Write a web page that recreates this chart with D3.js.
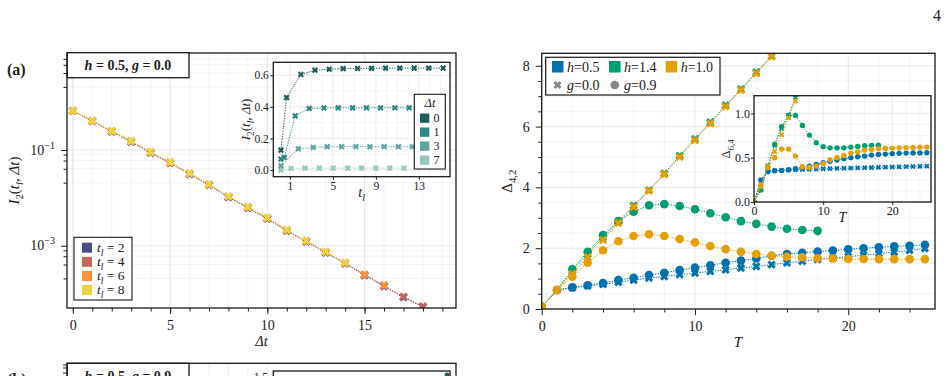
<!DOCTYPE html>
<html>
<head>
<meta charset="utf-8">
<script src="https://cdn.jsdelivr.net/npm/d3@7"></script>
<style>
  body { margin: 0; background: #fff; }
</style>
</head>
<body>
<div id="fig"></div>
<script>
// ---------- panel (a) main: I2(t_l, dt) on log scale
var deltaT = [0, 1, 2, 3, 4, 5, 6, 7, 8, 9, 10, 11, 12, 13, 14, 15, 16, 17, 18];
var tlLabels = ["2", "4", "6", "8"];
var tlColors = ["#4b4c8d", "#c5665b", "#fb923f", "#eed43e"];
var I2_tl2 = [0.655, 0.398, 0.241, 0.148, 0.0872, 0.0530, 0.0312, 0.0184, 0.0103, 0.00615, 0.00367, 0.00204, 0.00121, 7.17e-4, 4.22e-4, 2.41e-4, 1.42e-4, 8.38e-5, 5.26e-5];
var I2_tl4 = [0.660, 0.404, 0.246, 0.152, 0.0895, 0.0545, 0.0321, 0.0189, 0.0106, 0.00633, 0.00378, 0.00210, 0.00125, 7.38e-4, 4.35e-4, 2.48e-4, 1.47e-4, 8.62e-5, 5.42e-5];
var I2_tl6 = [0.662, 0.408, 0.248, 0.154, 0.0905, 0.0551, 0.0325, 0.0191, 0.0108, 0.00641, 0.00383, 0.00213, 0.00127, 7.48e-4, 4.41e-4, 2.52e-4, 1.49e-4];
var I2_tl8 = [0.663, 0.409, 0.249, 0.154, 0.0909, 0.0554, 0.0327, 0.0192, 0.0108, 0.00644, 0.00385, 0.00214, 0.00127, 7.51e-4, 4.43e-4];

// ---------- panel (a) inset: I2 vs t_l for a few dt
var dtLabels = ["0", "1", "3", "7"];
var dtColors = ["#1e5e5b", "#2d8782", "#5ba6a1", "#9ac6c2"];
var tl_dt0 = [0.16, 0.69, 2.02, 3.33, 4.66, 5.96, 7.30, 8.60, 9.90, 11.23, 12.56, 13.93, 15.26];
var I2_dt0 = [0.126, 0.459, 0.605, 0.632, 0.638, 0.642, 0.643, 0.644, 0.645, 0.645, 0.645, 0.645, 0.645];
var tl_dt1 = [0.16, 0.47, 1.49, 2.80, 4.16, 5.49, 6.83, 8.13, 9.44, 10.77, 12.10];
var I2_dt1 = [0.069, 0.080, 0.343, 0.390, 0.393, 0.394, 0.394, 0.394, 0.394, 0.394, 0.394];
var tl_dt3 = [0.16, 1.77, 3.17, 4.47, 5.81, 7.14, 8.44, 9.77, 11.10, 12.40];
var I2_dt3 = [0.027, 0.135, 0.143, 0.148, 0.148, 0.148, 0.148, 0.148, 0.148, 0.148];
var tl_dt7 = [0.16, 1.09, 2.40, 3.72, 5.03, 6.37, 7.67, 9.00, 10.30, 11.63];
var I2_dt7 = [0.0, 0.011, 0.012, 0.012, 0.012, 0.012, 0.012, 0.012, 0.012, 0.012];

// ---------- right panel: Delta_{4,2} vs T
var T = [0, 1, 2, 3, 4, 5, 6, 7, 8, 9, 10, 11, 12, 13, 14, 15, 16, 17, 18, 19, 20, 21, 22, 23, 24, 25];
var hLabels = ["0.5", "1.4", "1.0"];
var hColors = ["#0072b2", "#009e73", "#e69f00"];
var gLabels = ["0.0", "0.9"];
var d42_h05_g00 = [0.07, 0.625, 0.70, 0.76, 0.81, 0.88, 0.95, 1.02, 1.07, 1.13, 1.18, 1.24, 1.29, 1.35, 1.40, 1.46, 1.52, 1.57, 1.63, 1.67, 1.72, 1.77, 1.82, 1.87, 1.93, 1.99];
var d42_h05_g09 = [0.07, 0.625, 0.71, 0.78, 0.855, 0.95, 1.03, 1.12, 1.19, 1.28, 1.36, 1.44, 1.52, 1.59, 1.66, 1.75, 1.81, 1.85, 1.89, 1.92, 1.96, 2.00, 2.03, 2.06, 2.08, 2.11];
var d42_h14_g00 = [0.07, 0.625, 1.25, 1.80, 2.35, 2.88, 3.40, 3.91, 4.46, 5.04, 5.59, 6.14, 6.70, 7.23, 7.79, 8.32, 8.87];
var d42_h14_g09 = [0.07, 0.625, 1.31, 1.88, 2.43, 2.89, 3.20, 3.41, 3.45, 3.39, 3.28, 3.15, 3.02, 2.89, 2.80, 2.71, 2.64, 2.60, 2.57];
var d42_h10_g00 = [0.07, 0.625, 1.15, 1.70, 2.27, 2.83, 3.36, 3.89, 4.43, 5.00, 5.55, 6.10, 6.66, 7.20, 7.75, 8.30, 8.85];
var d42_h10_g09 = [0.07, 0.625, 1.06, 1.52, 1.93, 2.23, 2.40, 2.46, 2.40, 2.30, 2.19, 2.07, 1.97, 1.88, 1.81, 1.75, 1.72, 1.70, 1.67, 1.66, 1.645, 1.645, 1.64, 1.64, 1.64, 1.64];

// ---------- right inset: Delta_{6,4} vs T
var d64_h05_g00 = [0, 0.248, 0.350, 0.353, 0.356, 0.360, 0.364, 0.367, 0.370, 0.372, 0.375, 0.377, 0.379, 0.381, 0.383, 0.385, 0.387, 0.389, 0.391, 0.393, 0.395, 0.397, 0.399, 0.401, 0.403, 0.405];
var d64_h05_g09 = [0, 0.248, 0.342, 0.353, 0.356, 0.364, 0.376, 0.390, 0.406, 0.425, 0.443, 0.459, 0.474, 0.489, 0.500, 0.511, 0.519, 0.530, 0.537, 0.541, 0.545, 0.549, 0.552, 0.553, 0.554, 0.556];
var d64_h14_g00 = [0, 0.14, 0.41, 0.64, 0.83, 0.98, 1.18, 1.38];
var d64_h14_g09 = [0, 0.135, 0.39, 0.654, 0.85, 0.977, 0.977, 0.864, 0.755, 0.669, 0.624, 0.612, 0.610, 0.612, 0.620, 0.627, 0.635, 0.640, 0.642];
var d64_h10_g00 = [0, 0.17, 0.40, 0.57, 0.76, 0.95, 1.14, 1.33];
var d64_h10_g09 = [0, 0.19, 0.39, 0.50, 0.598, 0.598, 0.519, 0.398, 0.390, 0.406, 0.436, 0.474, 0.500, 0.526, 0.552, 0.567, 0.586, 0.594, 0.601, 0.605, 0.609, 0.612, 0.613, 0.616, 0.618, 0.620];

var FONT = "Liberation Serif";

var svg = d3.select("#fig").append("svg")
    .attr("width", 948).attr("height", 376)
    .style("display", "block").style("background", "#fff");
var defs = svg.append("defs");

// ---------- helpers
function rich(g, x, y, fs, parts, anchor) {
    var t = g.append("text").attr("x", x).attr("y", y)
        .attr("font-size", fs).attr("text-anchor", anchor || "start")
        .attr("font-family", FONT).attr("fill", "#222");
    var shift = 0;
    parts.forEach(function(p) {
        var st = p[1] || "";
        var target = st.indexOf("_") >= 0 ? fs * 0.28 : (st.indexOf("^") >= 0 ? -fs * 0.42 : 0);
        var ts = t.append("tspan").text(p[0]).attr("dy", target - shift);
        shift = target;
        if (target !== 0) ts.attr("font-size", fs * 0.72);
        if (st.indexOf("i") >= 0) ts.attr("font-style", "italic");
        if (st.indexOf("b") >= 0) ts.attr("font-weight", "bold");
    });
    return t;
}

function addClip(id, b) {
    defs.append("clipPath").attr("id", id).append("rect")
        .attr("x", b.x0).attr("y", b.y0).attr("width", b.x1 - b.x0).attr("height", b.y1 - b.y0);
}

function grid(g, b, xVals, yVals, xs, ys, color) {
    var gg = g.append("g").attr("stroke", color).attr("stroke-width", 0.8);
    xVals.forEach(function(v) {
        gg.append("line").attr("x1", xs(v)).attr("x2", xs(v)).attr("y1", b.y0).attr("y2", b.y1);
    });
    yVals.forEach(function(v) {
        gg.append("line").attr("y1", ys(v)).attr("y2", ys(v)).attr("x1", b.x0).attr("x2", b.x1);
    });
}

function ticks(g, scale, orient, pos, values, size, pad, fmt, fs) {
    var ax = (orient === "bottom" ? d3.axisBottom(scale) : d3.axisLeft(scale))
        .tickValues(values).tickSize(size).tickPadding(pad).tickFormat(fmt || (function() { return ""; }));
    var a = g.append("g")
        .attr("transform", orient === "bottom" ? "translate(0," + pos + ")" : "translate(" + pos + ",0)")
        .call(ax)
        .attr("font-family", FONT);
    a.select(".domain").remove();
    a.selectAll("line").attr("stroke", "#222").attr("stroke-width", 1);
    a.selectAll("text").attr("font-size", fs || 13).attr("fill", "#222").attr("font-family", FONT);
    return a;
}

function frame(g, b, fill) {
    g.append("rect").attr("x", b.x0).attr("y", b.y0)
        .attr("width", b.x1 - b.x0).attr("height", b.y1 - b.y0)
        .attr("fill", fill || "none").attr("stroke", "#1a1a1a").attr("stroke-width", 1.3);
}

function series(g, xv, yv, xs, ys, color, shape, size, clip) {
    var pts = yv.map(function(v, i) { return [xs(xv[i]), ys(v)]; });
    var lay = g.append("g").attr("clip-path", "url(#" + clip + ")");
    lay.append("path").attr("d", d3.line()(pts))
        .attr("fill", "none").attr("stroke", color).attr("stroke-width", 1)
        .attr("stroke-dasharray", "1.3,1.3");
    lay.selectAll(null).data(pts).enter().append("path")
        .attr("d", d3.symbol().type(shape === "x" ? d3.symbolCross : d3.symbolCircle).size(size))
        .attr("transform", function(d) {
            return "translate(" + d[0] + "," + d[1] + ")" + (shape === "x" ? " rotate(45)" : "");
        })
        .attr("fill", color);
}

// =========== PANEL (a) ===========
var bA = { x0: 67, y0: 53, x1: 456, y1: 308 };
var xA = d3.scaleLinear().domain([-0.3, 19.7]).range([bA.x0, bA.x1]);
var yA = d3.scaleLog().domain([Math.pow(10, -4.30), Math.pow(10, 1.027)]).range([bA.y1, bA.y0]);
var gA = svg.append("g");
addClip("clipA", bA);

var logMajor = [1e-3, 1e-1];
var logExp = ["\u22123", "\u22121"];
var logMinor = [2.08e-4, 4.06e-4, 6.04e-4, 8.02e-4, 0.0208, 0.0406, 0.0604, 0.0802, 2.08, 4.06, 6.04, 8.02];
var xAgrid = [0, 1, 2, 3, 4, 5, 6, 7, 8, 9, 10, 11, 12, 13, 14, 15, 16, 17, 18, 19];
grid(gA.append("g").attr("clip-path", "url(#clipA)"), bA, xAgrid, logMinor, xA, yA, "#f0f0f0");
grid(gA.append("g").attr("clip-path", "url(#clipA)"), bA, [0, 5, 10, 15], logMajor, xA, yA, "#e2e2e2");

[I2_tl2, I2_tl4, I2_tl6, I2_tl8].forEach(function(s, i) {
    series(gA, deltaT, s, xA, yA, tlColors[i], "x", 46, "clipA");
});
frame(gA, bA);

ticks(gA, xA, "bottom", bA.y1, [0, 5, 10, 15], 6, 6.5, d3.format("d"), 14);
ticks(gA, xA, "bottom", bA.y1, xAgrid, 3.5, 0);
ticks(gA, yA, "left", bA.x0, logMajor, 6, 0);
ticks(gA, yA, "left", bA.x0, logMinor.filter(function(v) { return v < 10; }), 3.5, 0);
logMajor.forEach(function(v, i) {
    rich(gA, 55, yA(v) + 4.5, 14, [["10", ""], [logExp[i], "^"]], "end");
});
rich(gA, (bA.x0 + bA.x1) / 2, 346, 14.5, [["\u0394t", "i"]], "middle");
rich(gA.append("g").attr("transform", "translate(19," + ((bA.y0 + bA.y1) / 2) + ") rotate(-90)"),
    0, 0, 15, [["I", "i"], ["2", "_"], ["(", ""], ["t", "i"], ["l", "_i"], [", ", ""], ["\u0394t", "i"], [")", ""]], "middle");

// title box
gA.append("rect").attr("x", 67.3).attr("y", 52.7).attr("width", 121.7).attr("height", 25)
    .attr("fill", "#fff").attr("stroke", "#1a1a1a").attr("stroke-width", 1.3);
rich(gA, 128, 70, 14, [["h", "bi"], [" = 0.5, ", "b"], ["g", "bi"], [" = 0.0", "b"]], "middle");

// legend (a)
var legA = gA.append("g");
legA.append("rect").attr("x", 74).attr("y", 237.3).attr("width", 58).attr("height", 62.7)
    .attr("fill", "#fff").attr("stroke", "#1a1a1a").attr("stroke-width", 1.1);
tlLabels.forEach(function(l, i) {
    var cy = 247.7 + i * 14.1;
    legA.append("rect").attr("x", 82).attr("y", cy - 5).attr("width", 10).attr("height", 10).attr("fill", tlColors[i]);
    rich(legA, 97, cy + 4.3, 13.5, [["t", "i"], ["l", "_i"], [" = " + l, ""]]);
});

// ---- inset (a)
var bAi = { x0: 273.3, y0: 62.3, x1: 450, y1: 176.7 };
var xAi = d3.scaleLinear().domain([-0.55, 15.9]).range([bAi.x0, bAi.x1]);
var yAi = d3.scaleLinear().domain([-0.042, 0.682]).range([bAi.y1, bAi.y0]);
var gAi = svg.append("g");
addClip("clipAi", bAi);
gAi.append("rect").attr("x", bAi.x0).attr("y", bAi.y0).attr("width", bAi.x1 - bAi.x0)
    .attr("height", bAi.y1 - bAi.y0).attr("fill", "#fff");
grid(gAi.append("g").attr("clip-path", "url(#clipAi)"), bAi,
    [0, 2, 3, 4, 6, 7, 8, 10, 11, 12, 14, 15], [0.1, 0.3, 0.5], xAi, yAi, "#f2f2f2");
grid(gAi.append("g").attr("clip-path", "url(#clipAi)"), bAi, [1, 5, 9, 13], [0, 0.2, 0.4, 0.6], xAi, yAi, "#e4e4e4");
[[tl_dt7, I2_dt7], [tl_dt3, I2_dt3], [tl_dt1, I2_dt1], [tl_dt0, I2_dt0]].forEach(function(s, k) {
    series(gAi, s[0], s[1], xAi, yAi, dtColors[3 - k], "x", 24, "clipAi");
});
frame(gAi, bAi);
ticks(gAi, xAi, "bottom", bAi.y1, [1, 5, 9, 13], 3, 2, d3.format("d"), 11.5);
ticks(gAi, yAi, "left", bAi.x0, [0, 0.2, 0.4, 0.6], 3, 1.5, d3.format(".1f"), 11.5);
rich(gAi, (bAi.x0 + bAi.x1) / 2, 197, 14, [["t", "i"], ["l", "_i"]], "middle");
rich(gAi.append("g").attr("transform", "translate(250," + ((bAi.y0 + bAi.y1) / 2) + ") rotate(-90)"),
    0, 0, 13, [["I", "i"], ["2", "_"], ["(", ""], ["t", "i"], ["l", "_i"], [", ", ""], ["\u0394t", "i"], [")", ""]], "middle");

var legAi = gAi.append("g");
legAi.append("rect").attr("x", 414.3).attr("y", 94.3).attr("width", 31).attr("height", 74.7)
    .attr("fill", "#fff").attr("stroke", "#1a1a1a").attr("stroke-width", 1.1);
rich(legAi, 430, 107, 12.5, [["\u0394t", "i"]], "middle");
dtLabels.forEach(function(l, i) {
    var cy = 118 + i * 14;
    legAi.append("rect").attr("x", 420).attr("y", cy - 4.5).attr("width", 9.3).attr("height", 9.3).attr("fill", dtColors[i]);
    rich(legAi, 433.5, cy + 4, 12, [[l, ""]]);
});

// =========== RIGHT PANEL ===========
var bR = { x0: 541.7, y0: 53.3, x1: 935, y1: 309 };
var xR = d3.scaleLinear().domain([0, 25.66]).range([bR.x0, bR.x1]);
var yR = d3.scaleLinear().domain([0, 8.41]).range([bR.y1, bR.y0]);
var gR = svg.append("g");
addClip("clipR", bR);
var xRminor = [2, 4, 6, 8, 12, 14, 16, 18, 22, 24];
var yRminor = [0.5, 1, 1.5, 2.5, 3, 3.5, 4.5, 5, 5.5, 6.5, 7, 7.5];
grid(gR.append("g").attr("clip-path", "url(#clipR)"), bR, xRminor, yRminor, xR, yR, "#f0f0f0");
grid(gR.append("g").attr("clip-path", "url(#clipR)"), bR, [0, 10, 20], [0, 2, 4, 6, 8], xR, yR, "#e2e2e2");

var rSeries = [
    [d42_h05_g00, 0, "x"], [d42_h05_g09, 0, "o"],
    [d42_h14_g00, 1, "x"], [d42_h14_g09, 1, "o"],
    [d42_h10_g00, 2, "x"], [d42_h10_g09, 2, "o"]
];
rSeries.forEach(function(s) {
    series(gR, T, s[0], xR, yR, hColors[s[1]], s[2], s[2] === "x" ? 44 : 58, "clipR");
});
frame(gR, bR);
ticks(gR, xR, "bottom", bR.y1, [0, 10, 20], 6, 6.5, d3.format("d"), 14);
ticks(gR, xR, "bottom", bR.y1, xRminor, 3.5, 0);
ticks(gR, yR, "left", bR.x0, [0, 2, 4, 6, 8], 6, 6, d3.format("d"), 14);
ticks(gR, yR, "left", bR.x0, yRminor, 3.5, 0);
rich(gR, 738, 347, 15, [["T", "i"]], "middle");
rich(gR.append("g").attr("transform", "translate(512," + ((bR.y0 + bR.y1) / 2) + ") rotate(-90)"),
    0, 0, 15, [["\u0394", ""], ["4,2", "_"]], "middle");

// legend right
var legR = gR.append("g");
legR.append("rect").attr("x", 545.7).attr("y", 57.3).attr("width", 174.3).attr("height", 37.7)
    .attr("fill", "#fff").attr("stroke", "#1a1a1a").attr("stroke-width", 1.2);
var legX = [552, 609, 665.7];
hLabels.forEach(function(l, i) {
    legR.append("rect").attr("x", legX[i]).attr("y", 61).attr("width", 11.5).attr("height", 11.5).attr("fill", hColors[i]);
    rich(legR, legX[i] + 15, 71.5, 14, [["h", "i"], ["=" + l, ""]]);
});
legR.append("path").attr("d", d3.symbol().type(d3.symbolCross).size(40))
    .attr("transform", "translate(557.5,85) rotate(45)").attr("fill", "#888");
legR.append("path").attr("d", d3.symbol().type(d3.symbolCircle).size(60))
    .attr("transform", "translate(614.8,85)").attr("fill", "#888");
rich(legR, 567, 90, 14, [["g", "i"], ["=" + gLabels[0], ""]]);
rich(legR, 624, 90, 14, [["g", "i"], ["=" + gLabels[1], ""]]);

// ---- right inset
var bRi = { x0: 754, y0: 95.7, x1: 931, y1: 202 };
var xRi = d3.scaleLinear().domain([0, 25.6]).range([bRi.x0, bRi.x1]);
var yRi = d3.scaleLinear().domain([0, 1.2]).range([bRi.y1, bRi.y0]);
var gRi = svg.append("g");
addClip("clipRi", bRi);
gRi.append("rect").attr("x", bRi.x0).attr("y", bRi.y0).attr("width", bRi.x1 - bRi.x0)
    .attr("height", bRi.y1 - bRi.y0).attr("fill", "#fff");
grid(gRi.append("g").attr("clip-path", "url(#clipRi)"), bRi, xRminor,
    [0.125, 0.25, 0.375, 0.625, 0.75, 0.875, 1.125], xRi, yRi, "#f0f0f0");
grid(gRi.append("g").attr("clip-path", "url(#clipRi)"), bRi, [0, 10, 20], [0, 0.5, 1], xRi, yRi, "#e2e2e2");
var riSeries = [
    [d64_h05_g00, 0, "x"], [d64_h05_g09, 0, "o"],
    [d64_h14_g00, 1, "x"], [d64_h14_g09, 1, "o"],
    [d64_h10_g00, 2, "x"], [d64_h10_g09, 2, "o"]
];
riSeries.forEach(function(s) {
    series(gRi, T, s[0], xRi, yRi, hColors[s[1]], s[2], s[2] === "x" ? 18 : 22, "clipRi");
});
frame(gRi, bRi);
ticks(gRi, xRi, "bottom", bRi.y1, [0, 10, 20], 3, 1.5, d3.format("d"), 12);
ticks(gRi, yRi, "left", bRi.x0, [0, 0.5, 1], 3, 1, d3.format(".1f"), 12);
rich(gRi, (bRi.x0 + bRi.x1) / 2, 222, 14, [["T", "i"]], "middle");
rich(gRi.append("g").attr("transform", "translate(730," + ((bRi.y0 + bRi.y1) / 2) + ") rotate(-90)"),
    0, 0, 12.5, [["\u0394", ""], ["6,4", "_"]], "middle");

// =========== PANEL (b), cut off by the page edge ===========
var gB = svg.append("g");
var bB = { x0: 67, y0: 363.3, x1: 456, y1: 420 };
grid(gB, { x0: 189, y0: bB.y0, x1: 273, y1: 376 }, [6, 7, 8, 9, 10], [], xA, yA, "#ececec");
frame(gB, bB);
[365, 368, 373].forEach(function(y) {
    gB.append("line").attr("x1", 63).attr("x2", 67).attr("y1", y).attr("y2", y).attr("stroke", "#222");
});
gB.append("rect").attr("x", 67.3).attr("y", 363.3).attr("width", 121.7).attr("height", 25)
    .attr("fill", "#fff").attr("stroke", "#1a1a1a").attr("stroke-width", 1.3);
rich(gB, 128, 380.5, 14, [["h", "bi"], [" = 0.5, ", "b"], ["g", "bi"], [" = 0.9", "b"]], "middle");
frame(gB, { x0: 273.3, y0: 371, x1: 450, y1: 430 }, "#fff");
rich(gB, 268, 380.5, 11.5, [["1.5", ""]], "end");
gB.append("path").attr("d", d3.symbol().type(d3.symbolCircle).size(18))
    .attr("transform", "translate(447,375)").attr("fill", dtColors[0]);

// panel letters and page number
rich(svg, 7, 74.5, 16, [["(a)", "b"]]);
rich(svg, 7, 385, 16, [["(b)", "b"]]);
rich(svg, 941, 21, 16, [["4", ""]], "end");
</script>
</body>
</html>
